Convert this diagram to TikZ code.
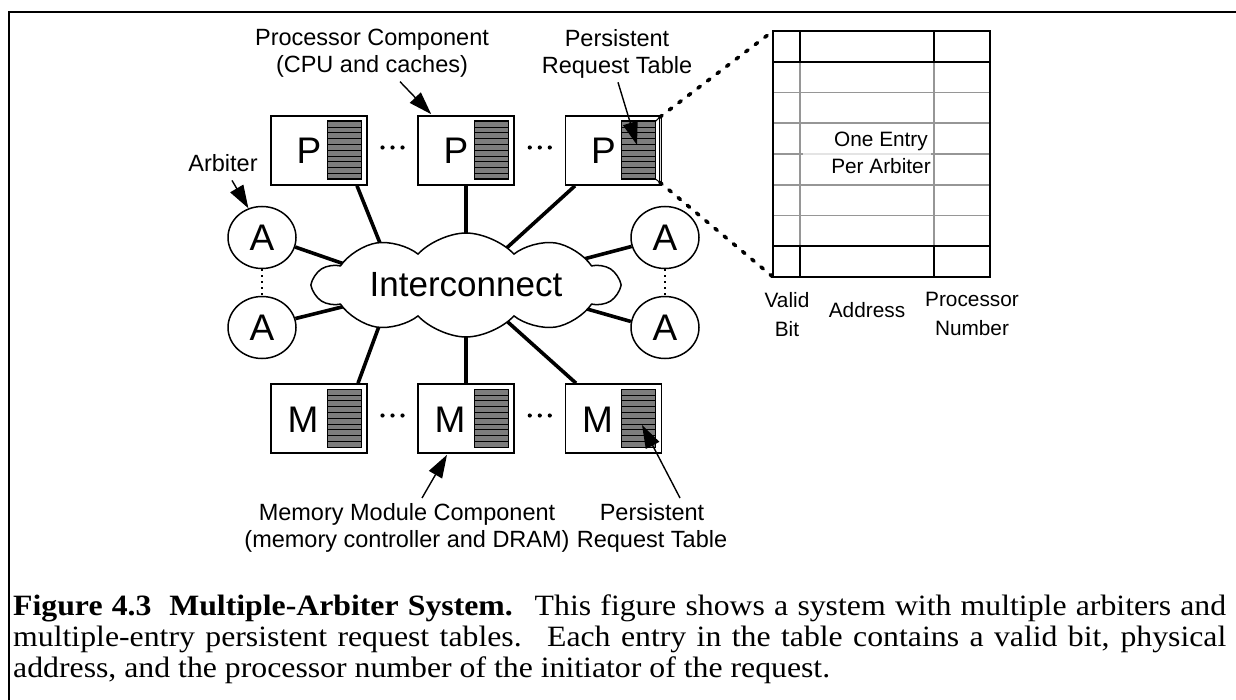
\documentclass[tikz,border=0pt]{standalone}
\usepackage{fontspec}
\setmainfont{Liberation Serif}[FakeStretch=1.077]
\newfontfamily\lsans{Liberation Sans}
\usetikzlibrary{shapes.geometric,shapes.symbols,arrows.meta,calc,backgrounds}

\definecolor{tblgray}{RGB}{125,125,125}
\definecolor{gridgray}{RGB}{150,150,150}

\tikzset{
  comp/.style={draw, line width=1.6pt, minimum width=96pt, minimum height=69pt,
    inner sep=0pt, fill=white},
  letter/.style={font=\lsans\fontsize{37}{37}\selectfont, inner sep=0pt},
  arb/.style={draw, ellipse, line width=1.5pt, minimum width=68pt, minimum height=62pt,
    inner sep=0pt, fill=white, font=\lsans\fontsize{37}{37}\selectfont},
  link/.style={line width=3.6pt},
  ptr/.style={line width=1.4pt, -{Triangle[length=23pt,width=15pt]}},
  lbl/.style={font=\lsans\fontsize{23.5}{27}\selectfont, align=center, inner sep=0pt},
  tlbl/.style={font=\lsans\fontsize{20.8}{29}\selectfont, align=center, inner sep=0pt},
  zoomline/.style={line width=3.6pt, dash pattern=on 3pt off 9pt, line cap=round},
  dotsep/.style={line width=1.8pt, dash pattern=on 1.5pt off 4.5pt},
}

% striped persistent request table inside a component box
\newcommand\prtable[1]{%
  \fill[tblgray] ([shift={(57,6)}]#1.north west) rectangle ([shift={(91,64)}]#1.north west);
  \foreach \k in {1,...,9}
    \draw[line width=0.9pt] ([shift={(57,{6+5.8*\k})}]#1.north west) -- ++(34,0);
  \draw[line width=1.4pt] ([shift={(57,6)}]#1.north west) rectangle ([shift={(91,64)}]#1.north west);
}

\begin{document}
\begin{tikzpicture}[x=1pt, y=-1pt]
\useasboundingbox (0,0) rectangle (1236,700);

% frame
\draw[line width=1.4pt] (1236,12) -- (9,12) -- (9,700);

% interconnect
\node[cloud, draw, fill=white, line width=1.5pt, cloud puffs=10, cloud puff arc=95,
  aspect=3, cloud ignores aspect, minimum width=304pt, minimum height=104pt,
  inner sep=0pt, font=\lsans\fontsize{35}{35}\selectfont] (net) at (466,285) {Interconnect};

% processor and memory components
\node[comp] (p1) at (319,150.5) {};
\node[comp] (p2) at (466,150.5) {};
\node[comp] (p3) at (613.5,150.5) {};
\node[comp] (m1) at (319,418.5) {};
\node[comp] (m2) at (466,418.5) {};
\node[comp] (m3) at (613.5,418.5) {};
\foreach \n in {p1,p2,p3,m1,m2,m3} {\prtable{\n}}
\node[letter] (lp1) at (309,151) {P};
\node[letter] (lp2) at (456,151) {P};
\node[letter] (lp3) at (603.5,151) {P};
\node[letter] (lm1) at (303,420) {M};
\node[letter] (lm2) at (450,420) {M};
\node[letter] (lm3) at (597.5,420) {M};

% ellipsis dots between components
\foreach \a/\b in {p1/p2,p2/p3,m1/m2,m2/m3}
  \foreach \d in {-10,0,10}
    \fill ($(\a.east)!0.5!(\b.west)+(\d,-3)$) circle (2.1pt);

% arbiters
\node[arb] (a1) at (262,237.5) {A};
\node[arb] (a2) at (262,327.5) {A};
\node[arb] (a3) at (665,237.5) {A};
\node[arb] (a4) at (665,327.5) {A};
\draw[dotsep] (a1.south) -- (a2.north);
\draw[dotsep] (a3.south) -- (a4.north);

% links into the interconnect (ends hidden under the cloud)
\begin{pgfonlayer}{background}
  \draw[link] (a1.-16) -- ([shift={(-116,-19)}]net.center);
  \draw[link] (a2.15) -- ([shift={(-116,20)}]net.center);
  \draw[link] (a3.195) -- ([shift={(114,-25)}]net.center);
  \draw[link] (a4.170) -- ([shift={(114,22)}]net.center);
  \draw[link] ([shift={(38,0)}]p1.south) -- ([shift={(-76,-17)}]net.center);
  \draw[link] (p2.south) -- ([shift={(0,-20)}]net.center);
  \draw[link] ([shift={(-38.5,0)}]p3.south) -- ([shift={(34,-31)}]net.center);
  \draw[link] ([shift={(39,0)}]m1.north) -- ([shift={(-81,25)}]net.center);
  \draw[link] (m2.north) -- ([shift={(0,20)}]net.center);
  \draw[link] ([shift={(-37.5,0)}]m3.north) -- ([shift={(34,30)}]net.center);
\end{pgfonlayer}

% enlarged persistent request table
\coordinate (btnw) at (773,31);
\coordinate (btsw) at (773,277);
\foreach \k in {2,...,7}
  \draw[gridgray, line width=1.6pt] (773,{31+30.75*\k}) -- (990,{31+30.75*\k});
\draw[gridgray, line width=1.6pt] (800,61.75) -- (800,246.25);
\draw[gridgray, line width=1.6pt] (934,61.75) -- (934,246.25);
\fill[white, opacity=0.75] (803,126) rectangle (931,182);
\draw[line width=1.6pt] (773,61.75) -- (990,61.75);
\draw[line width=1.6pt] (773,246.25) -- (990,246.25);
\draw[line width=1.6pt] (800,31) -- (800,61.75) (934,31) -- (934,61.75);
\draw[line width=1.6pt] (800,246.25) -- (800,277) (934,246.25) -- (934,277);
\draw[line width=2pt] (773,31) rectangle (990,277);
\node[tlbl, font=\lsans\fontsize{20.8}{27}\selectfont, anchor=north] (lentry) at (881,131.5) {One Entry\\Per Arbiter};
\node[tlbl, anchor=north] (lvalid) at (787,292) {Valid\\Bit};
\node[tlbl, anchor=base] (laddr) at (867,318) {Address};
\node[tlbl, anchor=north] (lpnum) at (972,292) {Processor\\Number};

% zoom from the small table to the enlarged one
\draw[line width=1pt] ([shift={(91,6)}]p3.north west) -- ([shift={(95,2)}]p3.north west)
  -- ([shift={(95,67)}]p3.north west) -- ([shift={(91,64)}]p3.north west);
\draw[zoomline] ([shift={(95,2)}]p3.north west) -- (btnw);
\draw[zoomline] ([shift={(95,67)}]p3.north west) -- (btsw);

% labels and pointers
\node[lbl, anchor=north] (lproc) at (372,29) {Processor Component\\(CPU and caches)};
\node[lbl, anchor=north] (lprt1) at (617,29) {Persistent\\Request Table};
\node[lbl, anchor=base] (larb) at (223,172) {Arbiter};
\node[lbl, anchor=north] (lmem) at (407,503) {Memory Module Component\\(memory controller and DRAM)};
\node[lbl, anchor=north] (lprt2) at (652,503) {Persistent\\Request Table};
\draw[ptr] ([shift={(28,4)}]lproc.south) -- ([shift={(14,-1)}]p2.north west);
\draw[ptr] ([shift={(1,4)}]lprt1.south) -- ([shift={(23.5,-5.5)}]p3.center);
\draw[ptr] ([shift={(9,8)}]larb.south) -- (a1.115);
\draw[ptr] ([shift={(15,-5)}]lmem.north) -- ([shift={(-19,1)}]m2.south);
\draw[ptr] ([shift={(28,-5)}]lprt2.north) -- ([shift={(28.5,6.5)}]m3.center);

% caption
\node[anchor=base west, inner sep=0pt, font=\fontsize{29.5}{31}\selectfont] (cap1) at (13,615)
  {\makebox[1213pt][s]{\textbf{Figure 4.3\hspace{0.6em}Multiple-Arbiter System.}\hspace{0.25em} This figure shows a system with multiple arbiters and}};
\node[anchor=base west, inner sep=0pt, font=\fontsize{29.5}{31}\selectfont] (cap2) at (13,646)
  {\makebox[1213pt][s]{multiple-entry persistent request tables.\hspace{0.25em} Each entry in the table contains a valid bit, physical}};
\node[anchor=base west, inner sep=0pt, font=\fontsize{29.5}{31}\selectfont] (cap3) at (13,677)
  {address, and the processor number of the initiator of the request.};
\end{tikzpicture}
\end{document}
